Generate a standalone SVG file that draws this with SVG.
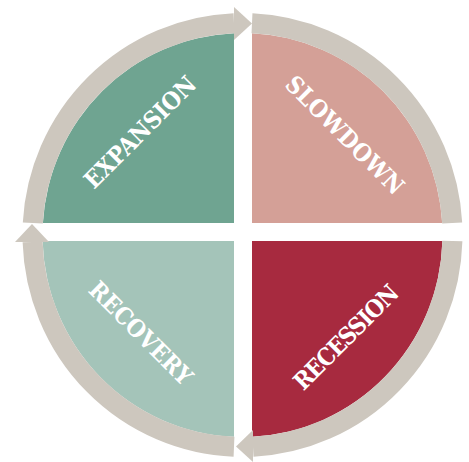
<svg xmlns="http://www.w3.org/2000/svg" width="469" height="462" viewBox="0 0 469 462">
<style>
.ring{fill:none;stroke:#CDC7BE;stroke-width:20;stroke-linecap:butt}
.head{fill:#CDC7BE}
.lbl{font-family:"DejaVu Serif","Liberation Serif",serif;font-size:24px;font-weight:bold;font-stretch:condensed;fill:#FFFFFF;text-anchor:middle}
</style>
<rect width="469" height="462" fill="#FFFFFF"/>
<g id="expansion">
<path d="M234 223 V33.2 A200 202 0 0 0 42.9 223 Z" fill="#6FA491"/>
<text class="lbl" transform="translate(140,132) rotate(-45)" x="0" y="8.5" textLength="147">EXPANSION</text>
</g>
<g id="slowdown">
<path d="M252 223 V33.2 A200 202 0 0 1 442.2 223 Z" fill="#D4A097"/>
<text class="lbl" transform="translate(345,135) rotate(45)" x="0" y="8.5" textLength="156">SLOWDOWN</text>
</g>
<g id="recession">
<path d="M252 241 H442.4 A200 202 0 0 1 252 436.8 Z" fill="#A72A3F"/>
<text class="lbl" transform="translate(346,337) rotate(-45)" x="0" y="8.5" textLength="137">RECESSION</text>
</g>
<g id="recovery">
<path d="M234 241 V436.8 A200 202 0 0 1 42.6 241 Z" fill="#A4C4B9"/>
<text class="lbl" transform="translate(141,333) rotate(45)" x="0" y="8.5" textLength="135">RECOVERY</text>
</g>
<g id="connectors">
<path class="ring" d="M32.8 223 A210 212 0 0 1 234 23.2"/>
<polygon class="head" points="234,7 252,23.5 234,40"/>
<path class="ring" d="M252 23.2 A210 212 0 0 1 452.2 223"/>
<path class="ring" d="M452.4 241 A210 212 0 0 1 253 446.7"/>
<polygon class="head" points="253,430 236,446.5 253,462"/>
<path class="ring" d="M234 446.8 A210 212 0 0 1 32.6 242"/>
<polygon class="head" points="15,242 32,224 49,242"/>
</g>
</svg>
